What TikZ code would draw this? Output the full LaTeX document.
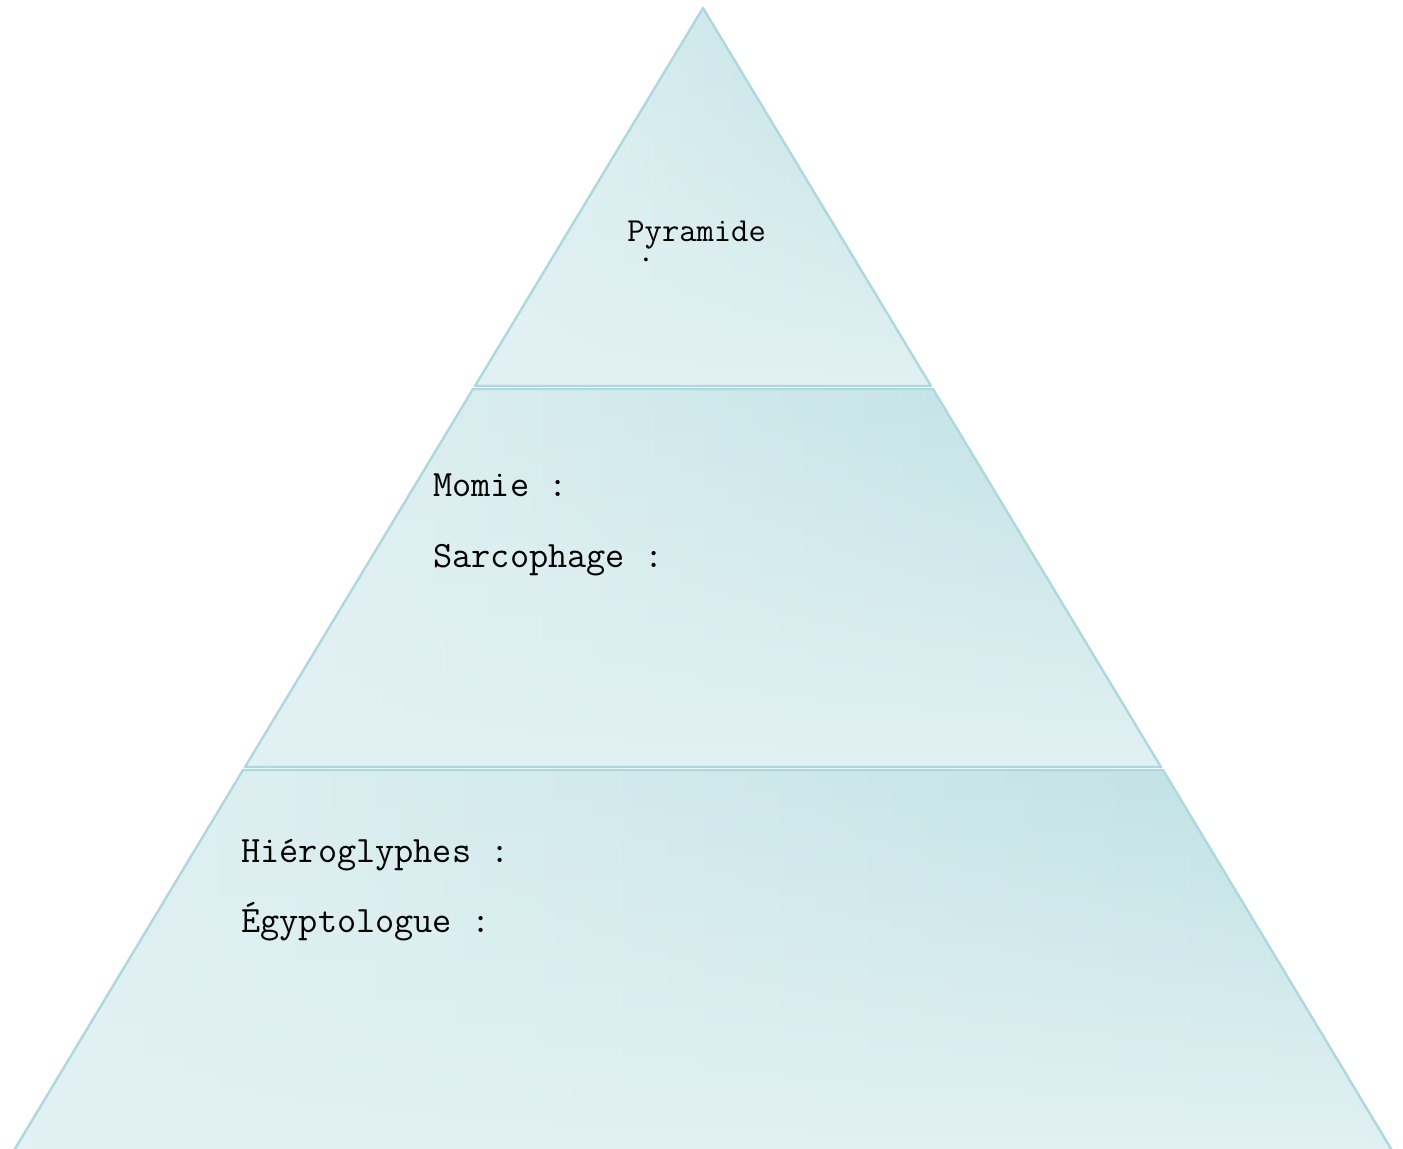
\documentclass[tikz,border=0pt]{standalone}
\usepackage{fontspec}
\usetikzlibrary{positioning}
\usetikzlibrary{fadings}
\definecolor{pyrlight}{RGB}{226,241,243}
\definecolor{pyrdark}{RGB}{189,224,227}
\definecolor{pyredge}{RGB}{172,216,222}
\tikzset{
    layer/.style = {left color=pyrlight, right color=pyrdark},
    layerfade/.style = {fill=pyrlight, path fading=north},
    layeredge/.style = {draw=pyredge, line width=1.2pt, line join=round},
    word/.style = {anchor=base west, inner sep=0pt, font=\ttfamily\fontsize{18.6}{22}\selectfont},
    wordtop/.style = {word, font=\ttfamily\fontsize{16.8}{20}\selectfont},
}

\begin{document}
\begin{tikzpicture}[x=0.5pt,y=-0.5pt]
  \useasboundingbox (0,0) rectangle (1403,1148);

  % top layer
  \coordinate (apex) at (703,8);
  \coordinate (tl) at (475,386);
  \coordinate (tr) at (931,386);
  \shade[layer] (apex) -- (tr) -- (tl) -- cycle;
  \fill[layerfade] (apex) -- (tr) -- (tl) -- cycle;
  \draw[layeredge] (apex) -- (tr) -- (tl) -- cycle;

  % middle layer
  \coordinate (ml) at (473,389);
  \coordinate (mr) at (933,389);
  \coordinate (mbl) at (245,767);
  \coordinate (mbr) at (1161,767);
  \shade[layer] (ml) -- (mr) -- (mbr) -- (mbl) -- cycle;
  \fill[layerfade] (ml) -- (mr) -- (mbr) -- (mbl) -- cycle;
  \draw[layeredge] (ml) -- (mr) -- (mbr) -- (mbl) -- cycle;

  % bottom layer
  \coordinate (bl) at (243,770);
  \coordinate (br) at (1163,770);
  \coordinate (bbl) at (13,1152);
  \coordinate (bbr) at (1393,1152);
  \shade[layer] (bl) -- (br) -- (bbr) -- (bbl) -- cycle;
  \fill[layerfade] (bl) -- (br) -- (bbr) -- (bbl) -- cycle;
  \draw[layeredge] (bl) -- (br) -- (bbr) -- (bbl) -- cycle;

  % texts
  \node[wordtop] (pyr) at (627,241) {Pyramide};
  \begin{scope}
    \clip (600,250) rectangle (700,263);
    \node[wordtop] (pyrcolon) at (637,272) {:};
  \end{scope}
  \node[word] (momie) at (433,496) {Momie :};
  \node[word] (sarco) at (433,567) {Sarcophage :};
  \node[word] (hiero) at (241,862) {Hiéroglyphes :};
  \node[word] (egypto) at (241,932) {Égyptologue :};
\end{tikzpicture}
\end{document}
